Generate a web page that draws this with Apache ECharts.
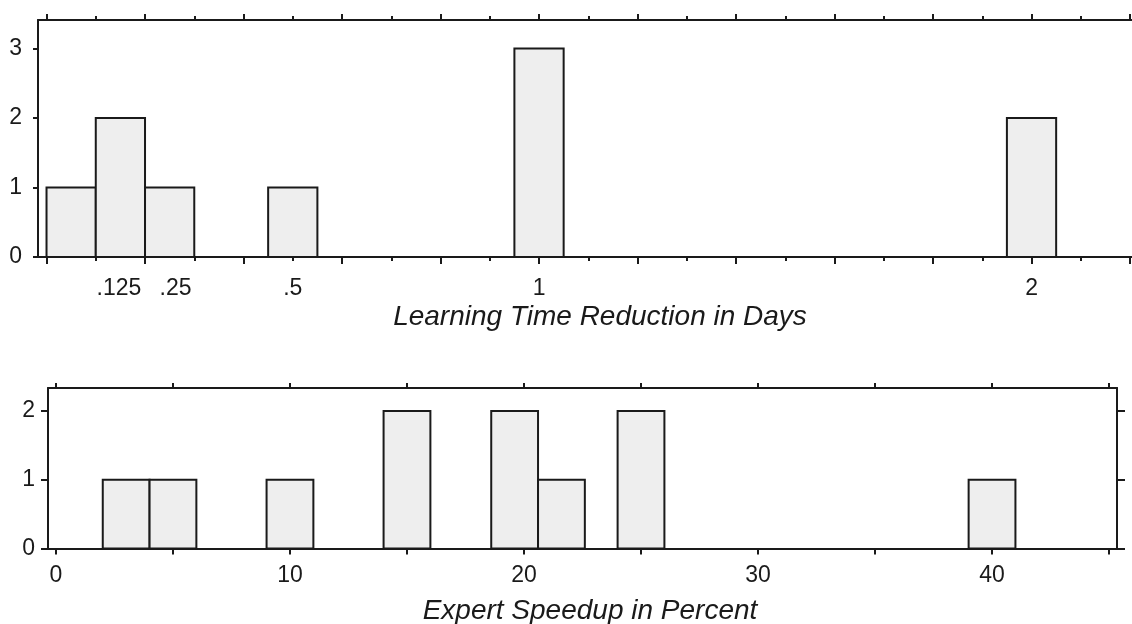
<!DOCTYPE html>
<html><head><meta charset="utf-8">
<script src="https://cdn.jsdelivr.net/npm/echarts@6/dist/echarts.min.js"></script>
<style>html,body{margin:0;padding:0;background:#fff}#c{width:1132px;height:624px}</style>
</head><body><div id="c"></div>
<script>
// ---- Top histogram: Learning Time Reduction in Days ----
const learnBins = [0.05, 0.15, 0.25, 0.5, 1, 2];
const learnCounts = [1, 2, 1, 1, 3, 2];
const learnBinWidth = 0.1;
const learnTickLabels = ['.125', '.25', '.5', '1', '2'];
const learnTickLabelAt = [0.147, 0.262, 0.5, 1, 2];
const learnMajorTicks = [0, 0.2, 0.4, 0.6, 0.8, 1.0, 1.2, 1.4, 1.6, 1.8, 2.0, 2.2];
const learnMinorTicks = [0.1, 0.3, 0.5, 0.7, 0.9, 1.1, 1.3, 1.5, 1.7, 1.9, 2.1];
const learnYTicks = [0, 1, 2, 3];

// ---- Bottom histogram: Expert Speedup in Percent ----
const speedBins = [3, 5, 10, 15, 19.6, 21.6, 25, 40];
const speedCounts = [1, 1, 1, 2, 2, 1, 2, 1];
const speedBinWidth = 2;
const speedTickLabels = ['0', '10', '20', '30', '40'];
const speedTickLabelAt = [0, 10, 20, 30, 40];
const speedTicks = [0, 5, 10, 15, 20, 25, 30, 35, 40, 45];
const speedYTicks = [0, 1, 2];

const INK = '#1a1a1a';
const FONT = '"Liberation Sans", Arial, Helvetica, sans-serif';

function histItem(w) {
  return function (params, api) {
    const x = api.value(0), y = api.value(1);
    const p0 = api.coord([x - w / 2, 0]);
    const p1 = api.coord([x + w / 2, y]);
    return {
      type: 'rect',
      shape: { x: p0[0], y: p1[1], width: p1[0] - p0[0], height: p0[1] - p1[1] },
      style: { fill: '#eeeeee', stroke: INK, lineWidth: 2 }
    };
  };
}

function xAx(o) {
  const base = {
    type: 'value', gridIndex: o.grid, position: o.pos, min: o.min, max: o.max,
    splitLine: { show: false },
    axisLine: { show: !!o.line, onZero: false, lineStyle: { color: INK, width: 2 } },
    axisTick: { show: true, customValues: o.ticks, length: o.len, lineStyle: { color: INK, width: 2 } },
    axisLabel: { show: false }
  };
  if (o.labels) {
    base.axisLabel = {
      show: true, customValues: o.labelAt, margin: o.margin,
      color: INK, fontSize: 23, fontFamily: FONT,
      formatter: function (v) {
        for (let i = 0; i < o.labelAt.length; i++) if (Math.abs(o.labelAt[i] - v) < 1e-9) return o.labels[i];
        return '';
      }
    };
  }
  if (o.name) {
    base.name = o.name; base.nameLocation = 'middle'; base.nameGap = o.nameGap;
    base.nameTextStyle = { color: INK, fontSize: 28, fontStyle: 'italic', fontFamily: FONT, padding: o.namePad };
  }
  return base;
}

function yAx(o) {
  return {
    type: 'value', gridIndex: o.grid, position: o.pos, min: 0, max: o.max,
    splitLine: { show: false },
    axisLine: { show: true, onZero: false, lineStyle: { color: INK, width: 2 } },
    axisTick: { show: true, customValues: o.ticks, length: o.len, lineStyle: { color: INK, width: 2 } },
    axisLabel: o.label ? { show: true, customValues: o.ticks, margin: o.margin, color: INK, fontSize: 23, fontFamily: FONT } : { show: false }
  };
}

const L = { min: -0.0173, max: 2.204 };
const S = { min: -0.34, max: 45.34 };

const option = {
  animation: false,
  backgroundColor: '#ffffff',
  grid: [
    { left: 38, top: 20, width: 1094, height: 237, outerBoundsMode: 'none', containLabel: false },
    { left: 48, top: 388, width: 1069, height: 160.5, outerBoundsMode: 'none', containLabel: false }
  ],
  xAxis: [
    xAx({ grid: 0, pos: 'bottom', min: L.min, max: L.max, line: true, ticks: learnMajorTicks, len: 7,
          labels: learnTickLabels, labelAt: learnTickLabelAt, margin: 20,
          name: 'Learning Time Reduction in Days', nameGap: 46, namePad: [0, 0, 0, 30] }),
    xAx({ grid: 0, pos: 'bottom', min: L.min, max: L.max, ticks: learnMinorTicks, len: 4 }),
    xAx({ grid: 0, pos: 'top', min: L.min, max: L.max, line: true, ticks: learnMajorTicks, len: 6 }),
    xAx({ grid: 0, pos: 'top', min: L.min, max: L.max, ticks: learnMinorTicks, len: 4 }),
    xAx({ grid: 1, pos: 'bottom', min: S.min, max: S.max, line: true, ticks: speedTicks, len: 6,
          labels: speedTickLabels, labelAt: speedTickLabelAt, margin: 16,
          name: 'Expert Speedup in Percent', nameGap: 49, namePad: [0, 0, 0, 15] }),
    xAx({ grid: 1, pos: 'top', min: S.min, max: S.max, line: true, ticks: speedTicks, len: 5 })
  ],
  yAxis: [
    yAx({ grid: 0, pos: 'left', max: 3.41, ticks: learnYTicks, len: 5, label: true, margin: 16 }),
    yAx({ grid: 1, pos: 'left', max: 2.333, ticks: speedYTicks, len: 7, label: true, margin: 13 }),
    yAx({ grid: 1, pos: 'right', max: 2.333, ticks: speedYTicks, len: 8, label: false })
  ],
  series: [
    { type: 'custom', xAxisIndex: 0, yAxisIndex: 0, renderItem: histItem(learnBinWidth),
      encode: { x: 0, y: 1 }, data: learnBins.map((b, i) => [b, learnCounts[i]]), clip: false },
    { type: 'custom', xAxisIndex: 4, yAxisIndex: 1, renderItem: histItem(speedBinWidth),
      encode: { x: 0, y: 1 }, data: speedBins.map((b, i) => [b, speedCounts[i]]), clip: false }
  ]
};

const chart = echarts.init(document.getElementById('c'), null, { renderer: 'canvas' });
chart.setOption(option);
</script>
</body></html>
